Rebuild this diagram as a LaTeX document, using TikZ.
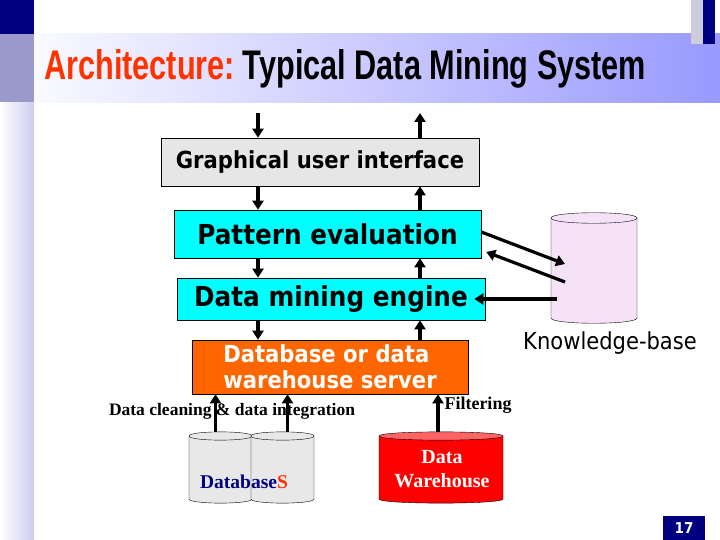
\documentclass[tikz,border=0pt]{standalone}
\usepackage{fontspec}
\usepackage{graphicx}
\usetikzlibrary{arrows.meta}

\setmainfont{Liberation Serif}
\newfontfamily\boxfont[FakeStretch=0.9]{DejaVu Sans}
\newfontfamily\titlefont{Liberation Sans}

\definecolor{navy}{RGB}{0,0,128}
\definecolor{slate}{RGB}{153,153,204}
\definecolor{lavender}{RGB}{153,153,255}
\definecolor{stripe}{RGB}{204,204,238}
\definecolor{paleblue}{RGB}{204,204,221}
\definecolor{titlered}{RGB}{255,51,0}
\definecolor{guigray}{RGB}{230,230,230}
\definecolor{layercyan}{RGB}{0,255,255}
\definecolor{kbpink}{RGB}{246,226,246}
\definecolor{dbgray}{RGB}{232,232,232}
\definecolor{whred}{RGB}{255,0,0}
\definecolor{whtop}{RGB}{255,100,100}
\definecolor{servorange}{RGB}{255,102,0}

% name, left, right, top, bottom, body fill, top fill, curve
\newcommand*{\drum}[8]{%
	\filldraw[fill=#6] (#2,#4) -- (#2,#5) .. controls (#2,{#5+#8}) and (#3,{#5+#8}) .. (#3,#5) -- (#3,#4) -- cycle;
	\filldraw[fill=#7] (#2,#4) .. controls (#2,{#4-#8}) and (#3,{#4-#8}) .. (#3,#4) .. controls (#3,{#4+#8}) and (#2,{#4+#8}) .. cycle;
	\coordinate (#1) at ({(#2+#3)/2},{(#4+#5)/2});
	\coordinate (#1top) at ({(#2+#3)/2},{#4-0.75*#8});
}

\begin{document}
\begin{tikzpicture}
[
	x=1pt,
	y=-1pt,
	box/.style={draw,rectangle,inner sep=0pt,line width=0.6pt},
	arr/.style={line width=3.2pt,-{Triangle[length=9pt,width=11pt]}},
	note/.style={inner sep=0pt,font=\bfseries\fontsize{17.5}{20}\selectfont}
]

	\useasboundingbox (0,0) rectangle (720,540);

	% slide background
	\fill[navy] (0,0) rectangle (34,34);
	\fill[slate] (0,34) rectangle (34,103);
	\shade[left color=white, right color=stripe] (0,103) rectangle (34,540);
	\shade[left color=white!95!lavender, right color=lavender] (34,34) rectangle (720,103);
	\fill[paleblue] (691,0) rectangle (703,44);
	\fill[navy] (703,0) rectangle (715,44);

	\node[anchor=base west, inner sep=0pt] (title) at (44,80) {\resizebox{602pt}{30pt}{\titlefont\bfseries\textcolor{titlered}{Architecture:}\hspace{-0.12em} Typical Data Mining System}};

	% layers
	\node[box, fill=guigray, minimum width=318pt, minimum height=48pt, font=\boxfont\bfseries\fontsize{23.5}{26}\selectfont] (gui) at (320,162) {Graphical user interface};
	\node[box, fill=layercyan, minimum width=307pt, minimum height=48pt, font=\boxfont\bfseries\fontsize{27.5}{30}\selectfont] (pe) at (327.5,234) {Pattern evaluation};
	\node[box, fill=layercyan, minimum width=308pt, minimum height=42pt, font=\boxfont\bfseries\fontsize{27.5}{30}\selectfont] (dme) at (331,299) {Data mining engine};
	\node[box, fill=servorange, minimum width=276pt, minimum height=54pt, text=white, align=left, font=\boxfont\bfseries\fontsize{23.5}{26}\selectfont] (dbs) at (330,367) {Database or data\\warehouse server};

	\coordinate (userin) at (258,113);
	\coordinate (userout) at (420,113);

	\draw[arr] (userin) -- (userin |- gui.north);
	\draw[arr] (userout |- gui.north) -- (userout);
	\draw[arr] (userin |- gui.south) -- (userin |- pe.north);
	\draw[arr] (userout |- pe.north) -- (userout |- gui.south);
	\draw[arr] (userin |- pe.south) -- (userin |- dme.north);
	\draw[arr] (userout |- dme.north) -- (userout |- pe.south);
	\draw[arr] (userin |- dme.south) -- (userin |- dbs.north);
	\draw[arr] (userout |- dbs.north) -- (userout |- dme.south);

	% knowledge base
	\drum{kb}{551}{637}{218}{318}{kbpink}{kbpink}{7}
	\node[inner sep=0pt, font=\boxfont\fontsize{23.4}{26}\selectfont] (kbname) at (610,343) {Knowledge-base};

	\draw[arr] ([yshift=2pt]pe.east) -- ([xshift=-29pt,yshift=4pt]kb);
	\draw[arr] ([xshift=-29pt,yshift=-14pt]kb) -- ([xshift=5pt,yshift=-18pt]pe.east);
	\draw[arr] ([xshift=-37pt,yshift=-31pt]kb) -- ([xshift=-11pt]dme.east);

	% sources
	\drum{dba}{189}{252}{436}{499}{dbgray}{dbgray}{5.5}
	\drum{dbb}{251}{314}{436}{499}{dbgray}{dbgray}{5.5}
	\drum{dw}{379}{503}{436}{499}{whred}{whtop}{5.5}

	\node[note] (cleaning) at (232,411) {Data cleaning \& data integration};
	\node[note, font=\bfseries\fontsize{18}{20}\selectfont] (filtering) at (478,405) {Filtering};
	\node[note, font=\bfseries\fontsize{19.5}{22}\selectfont] (dbname) at (244,482) {\textcolor{navy}{Database}\textcolor{titlered}{S}};
	\node[note, text=white, align=center, font=\bfseries\fontsize{20}{24}\selectfont] (dwname) at (442,469) {Data\\Warehouse};

	\draw[arr] ([xshift=-5pt]dbatop) -- ([xshift=-5pt]dbatop |- dbs.south);
	\draw[arr] ([xshift=5pt]dbbtop) -- ([xshift=5pt]dbbtop |- dbs.south);
	\draw[arr] ([xshift=-3pt]dwtop) -- ([xshift=-3pt]dwtop |- dbs.south);

	\node[fill=navy, text=white, inner sep=0pt, minimum width=42pt, minimum height=24pt, font=\boxfont\bfseries\fontsize{15}{16}\selectfont] (pagenum) at (684,528) {17};

\end{tikzpicture}
\end{document}
